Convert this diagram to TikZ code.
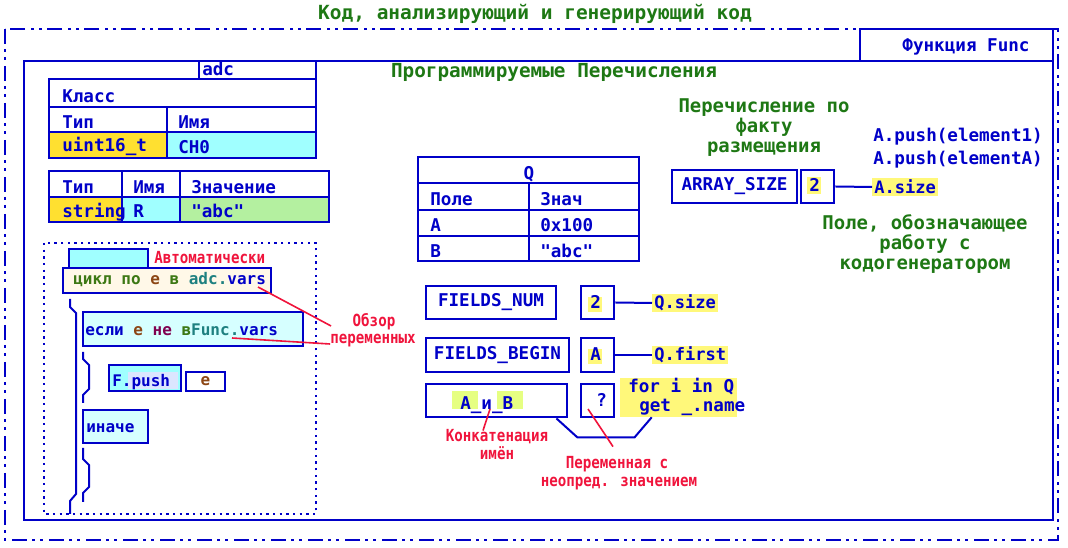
\documentclass[tikz,border=0pt]{standalone}
\usepackage{fontspec}
\setmainfont{DejaVu Sans Mono}
\newfontfamily\redf[FakeStretch=0.85]{DejaVu Sans Mono}
\newfontfamily\qf[Ligatures=TeXOff]{DejaVu Sans Mono}
\usetikzlibrary{fit,calc}
\definecolor{cblue}{RGB}{0,0,200}
\definecolor{cgreen}{RGB}{30,120,20}
\definecolor{cgreen2}{RGB}{60,120,20}
\definecolor{cred}{RGB}{240,20,60}
\definecolor{ccyan}{RGB}{160,255,255}
\definecolor{clcyan}{RGB}{214,255,255}
\definecolor{cyel}{RGB}{255,224,48}
\definecolor{chl}{RGB}{255,248,122}
\definecolor{clgreen}{RGB}{180,240,160}
\definecolor{clime}{RGB}{230,255,130}
\definecolor{ccream}{RGB}{255,248,232}
\definecolor{clav}{RGB}{220,230,255}
\definecolor{cbrown}{RGB}{140,70,20}
\definecolor{cpurple}{RGB}{128,0,80}
\definecolor{cteal}{RGB}{30,128,128}
\newcommand{\qd}{{\qf\symbol{34}}}
\begin{document}
\begin{tikzpicture}[x=0.75pt,y=-0.75pt,
  bt/.style={text=cblue,font=\bfseries\fontsize{13.2}{15}\selectfont,inner sep=0pt},
  st/.style={text=cblue,font=\bfseries\fontsize{12}{14}\selectfont,inner sep=0pt},
  gt/.style={text=cgreen,font=\bfseries\fontsize{14.2}{16}\selectfont,inner sep=0pt},
  rt/.style={text=cred,font=\redf\bfseries\fontsize{12.5}{14}\selectfont,inner sep=0pt},
  tl/.style={draw=cblue,line width=1.5pt},
  bl/.style={draw=cblue,line width=1.5pt},
  rl/.style={draw=cred,line width=1.2pt},
  sbox/.style={draw=cblue,line width=1.7pt,inner sep=0pt},
  tbox/.style={draw=cblue,line width=2.2pt,inner sep=0pt},
  hl/.style={fill=chl,text=cblue,font=\bfseries\fontsize{12.8}{14}\selectfont,inner xsep=1.5pt,inner ysep=0pt,minimum height=13.5pt},
  dashdot/.style={draw=cblue,line width=1.5pt,dash pattern=on 11.25pt off 3.75pt on 2.25pt off 3.75pt on 2.25pt off 4.5pt},
  dotbox/.style={draw=cblue,line width=1.8pt,dash pattern=on 1.8pt off 3.2pt}
]
\useasboundingbox (0,0) rectangle (1068,548);
\fill[white] (0,0) rectangle (1068,548);

% title and frames
\node[gt,font=\bfseries\fontsize{14.6}{16}\selectfont,anchor=base] (title) at (535,20) {Код, анализирующий и генерирующий код};
\draw[dashdot] (5,29) rectangle (1058,540);
\draw[tl] (24,61) rectangle (1053,520);
\node[fit={(860,29)(1053,61)},draw=cblue,line width=1.5pt,inner sep=0pt,fill=white] (func) {};
\node[bt,anchor=base] (funct) at (966,52) {Функция Func};
\node[gt,font=\bfseries\fontsize{14.5}{16}\selectfont,anchor=base] (prog) at (554,78) {Программируемые Перечисления};

% class table
\draw[tl] (199,61) -- (199,79);
\draw[tl] (316,61) -- (316,79);
\node[bt,anchor=base west] (adc) at (202,76) {adc};
\fill[cyel] (49,132) rectangle (167,158);
\fill[ccyan] (167,132) rectangle (316,158);
\draw[tl] (49,79) rectangle (316,158);
\draw[tl] (49,107) -- (316,107);
\draw[tl] (49,132) -- (316,132);
\draw[tl] (167,107) -- (167,158);
\node[bt,anchor=base west] (klass) at (62,103) {Класс};
\node[bt,anchor=base west] (tip1) at (62,129) {Тип};
\node[bt,anchor=base west] (imya1) at (178,129) {Имя};
\node[bt,anchor=base west] (uint) at (62,152) {uint16\_t};
\node[bt,anchor=base west] (ch0) at (178,154) {CH0};

% variable table
\fill[cyel] (49,197) rectangle (122,222);
\fill[ccyan] (122,197) rectangle (180,222);
\fill[clgreen] (180,197) rectangle (329,222);
\draw[tl] (49,171) rectangle (329,222);
\draw[tl] (49,197) -- (329,197);
\draw[tl] (122,171) -- (122,222);
\draw[tl] (180,171) -- (180,222);
\node[bt,anchor=base west] (tip2) at (62,194) {Тип};
\node[bt,anchor=base west] (imya2) at (133,194) {Имя};
\node[bt,anchor=base west] (znach) at (191,194) {Значение};
\node[bt,anchor=base west] (strg) at (62,218) {string};
\node[bt,anchor=base west] (rr) at (133,218) {R};
\node[bt,anchor=base west] (abc) at (191,218) {\qd abc\qd};

% structogram
\draw[dotbox] (44,243) rectangle (316,514);
\node[sbox,fill=ccyan,fit={(69,249)(148,268)}] (tab) {};
\node[rt,anchor=base west] (auto) at (154,264) {Автоматически};
\node[sbox,fill=ccream,fit={(63,268)(271,293)}] (loop) {};
\node[st,anchor=base west] (loopt) at (73,285) {\textcolor{cgreen2}{цикл по} \textcolor{cbrown}{е} \textcolor{cgreen2}{в} \textcolor{cteal}{adc.}vars};
\draw[bl] (70,299) -- (70,307) -- (76,313) -- (76,494) -- (70,501) -- (70,514);
\node[sbox,fill=clcyan,fit={(83,312)(303,346)}] (ifb) {};
\node[st,anchor=base west] (ift) at (85,336) {если \textcolor{cbrown}{е} \textcolor{cpurple}{не} \textcolor{cgreen2}{в}\textcolor{cteal}{Func.}vars};
\draw[bl] (83,352) -- (83,359) -- (89,365) -- (89,389) -- (83,395) -- (83,403);
\node[sbox,fill=ccyan,fit={(109,365)(181,391)}] (push) {};
\fill[clav] (128,372) rectangle (178,389);
\node[st,anchor=base west] (pusht) at (112,387) {F.push};
\node[sbox,fill=white,fit={(186,372)(225,391)}] (ebox) {};
\node[st,text=cbrown] (et) at (ebox) {е};
\node[sbox,fill=clcyan,fit={(83,410)(148,443)}] (else) {};
\node[st,anchor=base west] (elset) at (86,433) {иначе};
\draw[bl] (83,448) -- (83,459) -- (89,465) -- (89,487) -- (83,493) -- (83,502);

% review labels
\node[rt,anchor=base] (obz) at (374,327) {Обзор};
\node[rt,anchor=base] (per) at (373,344) {переменных};
\coordinate (o1) at (258,287);
\coordinate (o2) at (232,338);
\draw[rl] (o1) -- ($(per.base west)+(1,-18)$);
\draw[rl] (o2) -- (per.base west);

% Q table
\draw[tl] (418,157) rectangle (639,261);
\draw[tl] (418,183) -- (639,183);
\draw[tl] (418,210) -- (639,210);
\draw[tl] (418,236) -- (639,236);
\draw[tl] (529,183) -- (529,261);
\node[bt,anchor=base] (qq) at (529,180) {Q};
\node[bt,anchor=base west] (pole) at (430,206) {Поле};
\node[bt,anchor=base west] (zn) at (540,206) {Знач};
\node[bt,anchor=base west] (fa) at (430,232) {A};
\node[bt,anchor=base west] (va) at (540,232) {0x100};
\node[bt,anchor=base west] (fb) at (430,258) {B};
\node[bt,anchor=base west] (vb) at (540,258) {\qd abc\qd};

% fields boxes
\node[tbox,fit={(426,286)(556,319)}] (fnum) {};
\node[bt] (fnumt) at (fnum) {FIELDS\_NUM};
\node[tbox,fit={(581,286)(614,319)}] (n2) {};
\fill[chl] (588,297) rectangle (602,312);
\node[bt,anchor=base west] (n2t) at (590,309) {2};
\node[hl,anchor=west] (qsize) at (652,303) {Q.size};
\draw[bl] (n2.east) -- (qsize.west);

\node[tbox,fit={(426,338)(569,372)}] (fbeg) {};
\node[bt] (fbegt) at (fbeg) {FIELDS\_BEGIN};
\node[tbox,fit={(581,338)(614,372)}] (na) {};
\fill[chl] (588,349) rectangle (602,364);
\node[bt,anchor=base west] (nat) at (590,361) {A};
\node[hl,anchor=west] (qfirst) at (652,355) {Q.first};
\draw[bl] (na.east) -- (qfirst.west);

\node[tbox,fit={(426,384)(567,417)}] (ab) {};
\fill[clime] (452,391) rectangle (478,409);
\fill[clime] (497,391) rectangle (523,409);
\node[bt,anchor=base west] (abt) at (460,410) {A\_и\_B};
\node[tbox,fit={(581,384)(614,417)}] (nq) {};
\node[bt,anchor=base west] (nqt) at (596,407) {?};
\node[fill=chl,inner sep=0pt,fit={(620,378)(737,417)}] (forq) {};
\node[bt,anchor=base west] (for1) at (628,393) {for i in Q};
\node[bt,anchor=base west] (for2) at (639,412) {get \_.name};
\draw[bl] ($(ab.south east)+(-12,0)$) -- ++(21,19) -- ++(57,0) -- ($(forq.south west)+(32,0)$);

\node[rt,anchor=base] (konk1) at (497,442) {Конкатенация};
\node[rt,anchor=base] (konk2) at (497,460) {имён};
\coordinate (pk) at (490,409);
\draw[rl] ($(konk1.north)+(-14,1)$) -- (pk);
\node[rt,anchor=base] (perm1) at (617,469) {Переменная с};
\node[rt,anchor=base] (perm2) at (619,487) {неопред. значением};
\coordinate (pq) at (588,409);
\draw[rl] (pq) -- ($(perm1.north)+(-4,-10)$);

% array size
\node[gt,anchor=base] (per1) at (764,113) {Перечисление по};
\node[gt,anchor=base] (per2) at (764,133) {факту};
\node[gt,anchor=base] (per3) at (764,153) {размещения};
\node[tbox,fit={(672,170)(797,203)}] (arr) {};
\node[bt] (arrt) at (arr) {ARRAY\_SIZE};
\node[tbox,fit={(801,170)(834,203)}] (arr2) {};
\fill[chl] (807,177) rectangle (821,194);
\node[bt,anchor=base west] (arr2t) at (809,192) {2};
\node[hl,anchor=west] (asize) at (872,187) {A.size};
\draw[bl] (arr2.east) -- (asize.west);
\node[bt,anchor=base west] (push1) at (873,142) {A.push(element1)};
\node[bt,anchor=base west] (push2) at (873,165) {A.push(elementA)};
\node[gt,anchor=base] (pl1) at (925,230) {Поле, обозначающее};
\node[gt,anchor=base] (pl2) at (925,250) {работу с};
\node[gt,anchor=base] (pl3) at (925,270) {кодогенератором};
\end{tikzpicture}
\end{document}
